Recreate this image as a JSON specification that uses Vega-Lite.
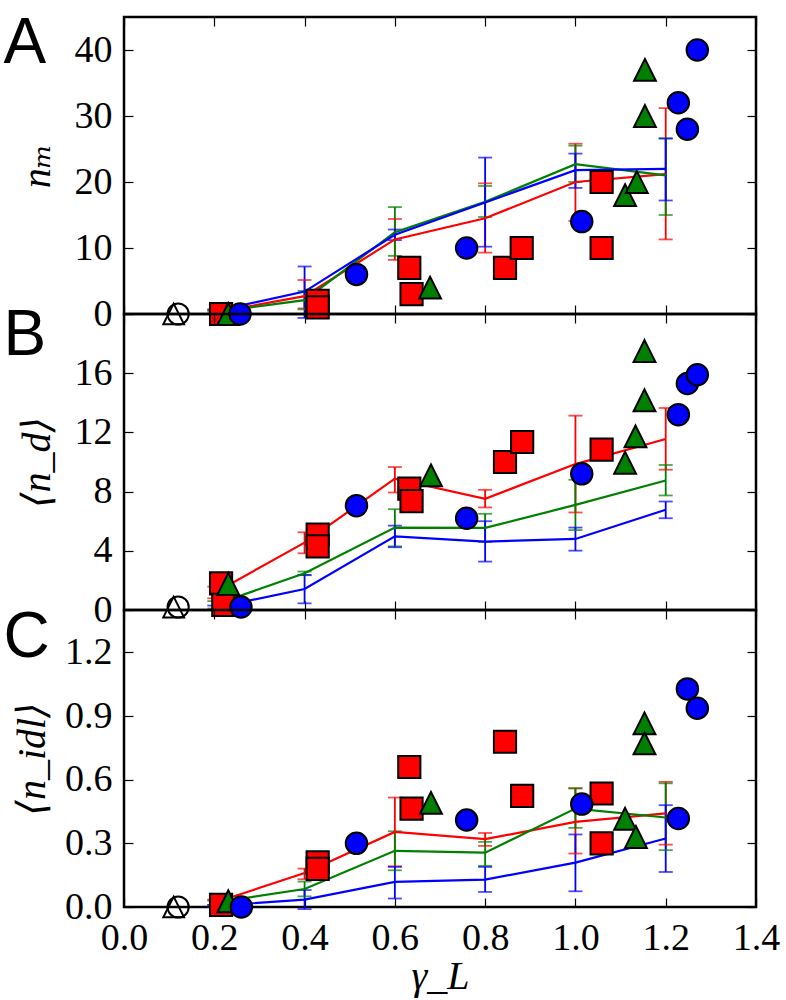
{
  "$schema": "https://vega.github.io/schema/vega-lite/v6.json",
  "background": "white",
  "padding": {"left": 2, "top": 10, "right": 10, "bottom": 0},
  "autosize": {"type": "pad"},
  "spacing": 0,
  "bounds": "flush",
  "config": {
    "view": {"stroke": "black", "strokeWidth": 2.5},
    "axis": {"grid": false, "domain": false, "labelFlush": false, "labelOverlap": false, "labelColor": "black", "titleColor": "black", "tickColor": "black", "tickWidth": 1.2, "labelFont": "Liberation Serif", "labelFontSize": 38, "titleFont": "Liberation Serif, DejaVu Serif, DejaVu Sans", "titleFontSize": 40, "titleFontStyle": "italic", "titleFontWeight": "normal"}
  },
  "datasets": {
    "A_means": [
      {"x": 0.2, "g": "g1", "mean": 0.2, "lo": 0.0, "hi": 0.4},
      {"x": 0.4, "g": "g1", "mean": 2.7, "lo": 0.85, "hi": 5.15},
      {"x": 0.6, "g": "g1", "mean": 11.3, "lo": 8.2, "hi": 14.4},
      {"x": 0.8, "g": "g1", "mean": 14.5, "lo": 9.3, "hi": 19.8},
      {"x": 1.0, "g": "g1", "mean": 20.0, "lo": 14.1, "hi": 25.8},
      {"x": 1.2, "g": "g1", "mean": 21.2, "lo": 11.3, "hi": 31.2},
      {"x": 0.2, "g": "g2", "mean": 0.3, "lo": 0.0, "hi": 0.6},
      {"x": 0.4, "g": "g2", "mean": 2.1, "lo": 0.7, "hi": 3.5},
      {"x": 0.6, "g": "g2", "mean": 12.4, "lo": 8.8, "hi": 16.2},
      {"x": 0.8, "g": "g2", "mean": 17.0, "lo": 14.7, "hi": 19.4},
      {"x": 1.0, "g": "g2", "mean": 22.7, "lo": 20.0, "hi": 25.5},
      {"x": 1.2, "g": "g2", "mean": 21.0, "lo": 15.0, "hi": 26.6},
      {"x": 0.2, "g": "g3", "mean": 0.4, "lo": 0.1, "hi": 0.7},
      {"x": 0.4, "g": "g3", "mean": 3.4, "lo": -0.6, "hi": 7.2},
      {"x": 0.6, "g": "g3", "mean": 12.0, "lo": 11.2, "hi": 12.8},
      {"x": 0.8, "g": "g3", "mean": 16.9, "lo": 10.2, "hi": 23.7},
      {"x": 1.0, "g": "g3", "mean": 21.8, "lo": 19.1, "hi": 24.3},
      {"x": 1.2, "g": "g3", "mean": 22.0, "lo": 17.2, "hi": 26.6}
    ],
    "B_means": [
      {"x": 0.2, "g": "g1", "mean": 1.15, "lo": 0.79, "hi": 1.58},
      {"x": 0.4, "g": "g1", "mean": 4.55, "lo": 3.83, "hi": 5.25},
      {"x": 0.6, "g": "g1", "mean": 8.87, "lo": 7.94, "hi": 9.66},
      {"x": 0.8, "g": "g1", "mean": 7.51, "lo": 6.93, "hi": 8.12},
      {"x": 1.0, "g": "g1", "mean": 9.86, "lo": 6.59, "hi": 13.13},
      {"x": 1.2, "g": "g1", "mean": 11.55, "lo": 9.48, "hi": 13.65},
      {"x": 0.2, "g": "g2", "mean": 0.35, "lo": 0.1, "hi": 0.6},
      {"x": 0.4, "g": "g2", "mean": 2.48, "lo": 2.35, "hi": 2.6},
      {"x": 0.6, "g": "g2", "mean": 5.57, "lo": 4.3, "hi": 6.81},
      {"x": 0.8, "g": "g2", "mean": 5.55, "lo": 4.6, "hi": 6.5},
      {"x": 1.0, "g": "g2", "mean": 7.1, "lo": 5.4, "hi": 8.8},
      {"x": 1.2, "g": "g2", "mean": 8.75, "lo": 7.74, "hi": 9.8},
      {"x": 0.2, "g": "g3", "mean": 0.15, "lo": 0.0, "hi": 0.3},
      {"x": 0.4, "g": "g3", "mean": 1.42, "lo": 0.45, "hi": 2.37},
      {"x": 0.6, "g": "g3", "mean": 4.98, "lo": 4.24, "hi": 5.7},
      {"x": 0.8, "g": "g3", "mean": 4.62, "lo": 3.27, "hi": 6.0},
      {"x": 1.0, "g": "g3", "mean": 4.8, "lo": 4.01, "hi": 5.57},
      {"x": 1.2, "g": "g3", "mean": 6.77, "lo": 6.2, "hi": 7.33}
    ],
    "C_means": [
      {"x": 0.2, "g": "g1", "mean": 0.02, "lo": 0.005, "hi": 0.035},
      {"x": 0.4, "g": "g1", "mean": 0.16, "lo": 0.131, "hi": 0.181},
      {"x": 0.6, "g": "g1", "mean": 0.354, "lo": 0.192, "hi": 0.516},
      {"x": 0.8, "g": "g1", "mean": 0.32, "lo": 0.288, "hi": 0.349},
      {"x": 1.0, "g": "g1", "mean": 0.401, "lo": 0.252, "hi": 0.559},
      {"x": 1.2, "g": "g1", "mean": 0.441, "lo": 0.294, "hi": 0.59},
      {"x": 0.2, "g": "g2", "mean": 0.02, "lo": 0.01, "hi": 0.03},
      {"x": 0.4, "g": "g2", "mean": 0.085, "lo": 0.05, "hi": 0.12},
      {"x": 0.6, "g": "g2", "mean": 0.265, "lo": 0.173, "hi": 0.357},
      {"x": 0.8, "g": "g2", "mean": 0.256, "lo": 0.194, "hi": 0.307},
      {"x": 1.0, "g": "g2", "mean": 0.464, "lo": 0.373, "hi": 0.56},
      {"x": 1.2, "g": "g2", "mean": 0.422, "lo": 0.268, "hi": 0.583},
      {"x": 0.2, "g": "g3", "mean": 0.005, "lo": 0.0, "hi": 0.01},
      {"x": 0.4, "g": "g3", "mean": 0.035, "lo": -0.01, "hi": 0.08},
      {"x": 0.6, "g": "g3", "mean": 0.118, "lo": 0.04, "hi": 0.189},
      {"x": 0.8, "g": "g3", "mean": 0.129, "lo": 0.071, "hi": 0.189},
      {"x": 1.0, "g": "g3", "mean": 0.209, "lo": 0.074, "hi": 0.342},
      {"x": 1.2, "g": "g3", "mean": 0.323, "lo": 0.165, "hi": 0.48}
    ],
    "A_pts": [
      {"x": 0.215, "y": 0, "g": "g1"},
      {"x": 0.429, "y": 2, "g": "g1"},
      {"x": 0.429, "y": 1, "g": "g1"},
      {"x": 0.632, "y": 7, "g": "g1"},
      {"x": 0.637, "y": 3, "g": "g1"},
      {"x": 0.844, "y": 7, "g": "g1"},
      {"x": 0.881, "y": 10, "g": "g1"},
      {"x": 1.058, "y": 20, "g": "g1"},
      {"x": 1.058, "y": 10, "g": "g1"},
      {"x": 0.231, "y": 0, "g": "g2"},
      {"x": 0.678, "y": 4, "g": "g2"},
      {"x": 1.11, "y": 18, "g": "g2"},
      {"x": 1.136, "y": 20, "g": "g2"},
      {"x": 1.154, "y": 37, "g": "g2"},
      {"x": 1.154, "y": 30, "g": "g2"},
      {"x": 0.257, "y": 0, "g": "g3"},
      {"x": 0.515, "y": 6, "g": "g3"},
      {"x": 0.759, "y": 10, "g": "g3"},
      {"x": 1.014, "y": 14, "g": "g3"},
      {"x": 1.228, "y": 32, "g": "g3"},
      {"x": 1.248, "y": 28, "g": "g3"},
      {"x": 1.27, "y": 40, "g": "g3"}
    ],
    "B_pts": [
      {"x": 0.215, "y": 1.8, "g": "g1"},
      {"x": 0.22, "y": 0.35, "g": "g1"},
      {"x": 0.429, "y": 5.1, "g": "g1"},
      {"x": 0.429, "y": 4.3, "g": "g1"},
      {"x": 0.632, "y": 8.2, "g": "g1"},
      {"x": 0.637, "y": 7.35, "g": "g1"},
      {"x": 0.844, "y": 10.0, "g": "g1"},
      {"x": 0.882, "y": 11.35, "g": "g1"},
      {"x": 1.058, "y": 10.83, "g": "g1"},
      {"x": 0.231, "y": 1.76, "g": "g2"},
      {"x": 0.68, "y": 9.1, "g": "g2"},
      {"x": 1.11, "y": 9.95, "g": "g2"},
      {"x": 1.133, "y": 11.73, "g": "g2"},
      {"x": 1.153, "y": 14.17, "g": "g2"},
      {"x": 1.153, "y": 17.5, "g": "g2"},
      {"x": 0.259, "y": 0.2, "g": "g3"},
      {"x": 0.515, "y": 7.05, "g": "g3"},
      {"x": 0.759, "y": 6.2, "g": "g3"},
      {"x": 1.014, "y": 9.2, "g": "g3"},
      {"x": 1.228, "y": 13.2, "g": "g3"},
      {"x": 1.248, "y": 15.3, "g": "g3"},
      {"x": 1.27, "y": 15.9, "g": "g3"}
    ],
    "C_pts": [
      {"x": 0.215, "y": 0.01, "g": "g1"},
      {"x": 0.429, "y": 0.21, "g": "g1"},
      {"x": 0.429, "y": 0.18, "g": "g1"},
      {"x": 0.632, "y": 0.66, "g": "g1"},
      {"x": 0.637, "y": 0.464, "g": "g1"},
      {"x": 0.844, "y": 0.779, "g": "g1"},
      {"x": 0.882, "y": 0.524, "g": "g1"},
      {"x": 1.058, "y": 0.535, "g": "g1"},
      {"x": 1.058, "y": 0.3, "g": "g1"},
      {"x": 0.231, "y": 0.027, "g": "g2"},
      {"x": 0.68, "y": 0.491, "g": "g2"},
      {"x": 1.11, "y": 0.416, "g": "g2"},
      {"x": 1.134, "y": 0.33, "g": "g2"},
      {"x": 1.153, "y": 0.866, "g": "g2"},
      {"x": 1.153, "y": 0.771, "g": "g2"},
      {"x": 0.26, "y": 0, "g": "g3"},
      {"x": 0.515, "y": 0.3, "g": "g3"},
      {"x": 0.759, "y": 0.41, "g": "g3"},
      {"x": 1.014, "y": 0.485, "g": "g3"},
      {"x": 1.228, "y": 0.417, "g": "g3"},
      {"x": 1.248, "y": 1.028, "g": "g3"},
      {"x": 1.27, "y": 0.937, "g": "g3"}
    ],
    "A_hollow": [
      {"x": 0.12, "y": 0, "g": "h1"},
      {"x": 0.11, "y": 0, "g": "h2"}
    ],
    "B_hollow": [
      {"x": 0.12, "y": 0.2, "g": "h1"},
      {"x": 0.11, "y": 0.2, "g": "h2"}
    ],
    "C_hollow": [
      {"x": 0.12, "y": 0, "g": "h1"},
      {"x": 0.11, "y": 0, "g": "h2"}
    ]
  },
  "vconcat": [
    {
      "width": 632,
      "height": 297,
      "title": {"text": "A", "anchor": "start", "frame": "group", "orient": "top", "offset": 0, "dx": -120.5, "dy": 110.5, "baseline": "alphabetic", "align": "left", "fontSize": 64, "font": "Liberation Sans", "fontWeight": "normal", "color": "black"},
      "layer": [
        {
          "data": {"name": "A_means"},
          "mark": {"type": "rule", "strokeWidth": 1.8},
          "encoding": {
            "x": {"field": "x", "type": "quantitative", "scale": {"domain": [0, 1.4], "nice": false, "zero": false}, "axis": {"orient": "bottom", "values": [0, 0.2, 0.4, 0.6, 0.8, 1.0, 1.2, 1.4], "labels": false, "ticks": true, "tickSize": -9, "title": null}},
            "y": {"field": "lo", "type": "quantitative", "scale": {"domain": [0, 45], "nice": false, "zero": false}, "axis": {"orient": "left", "values": [0, 10, 20, 30, 40], "format": "d", "ticks": false, "labelPadding": 12, "title": "nₘ", "titlePadding": 17}},
            "y2": {"field": "hi"},
            "color": {"field": "g", "type": "nominal", "scale": {"domain": ["g1", "g2", "g3"], "range": ["#ff0000", "#008000", "#0000ff"]}, "legend": null}
          }
        },
        {
          "data": {"name": "A_means"},
          "mark": {"type": "tick", "orient": "horizontal", "size": 14, "thickness": 1.8},
          "encoding": {
            "x": {"field": "x", "type": "quantitative", "scale": {"domain": [0, 1.4], "nice": false, "zero": false}, "axis": {"orient": "top", "values": [0, 0.2, 0.4, 0.6, 0.8, 1.0, 1.2, 1.4], "labels": false, "ticks": true, "tickSize": -9, "title": null}},
            "y": {"field": "lo", "type": "quantitative", "scale": {"domain": [0, 45], "nice": false, "zero": false}, "axis": {"orient": "left", "values": [0, 10, 20, 30, 40], "labels": false, "ticks": true, "tickSize": -9, "title": null}},
            "color": {"field": "g", "type": "nominal", "scale": {"domain": ["g1", "g2", "g3"], "range": ["#ff0000", "#008000", "#0000ff"]}, "legend": null}
          }
        },
        {
          "data": {"name": "A_means"},
          "mark": {"type": "tick", "orient": "horizontal", "size": 14, "thickness": 1.8},
          "encoding": {
            "x": {"field": "x", "type": "quantitative", "scale": {"domain": [0, 1.4], "nice": false, "zero": false}, "axis": null},
            "y": {"field": "hi", "type": "quantitative", "scale": {"domain": [0, 45], "nice": false, "zero": false}, "axis": {"orient": "right", "values": [0, 10, 20, 30, 40], "labels": false, "ticks": true, "tickSize": -9, "title": null}},
            "color": {"field": "g", "type": "nominal", "scale": {"domain": ["g1", "g2", "g3"], "range": ["#ff0000", "#008000", "#0000ff"]}, "legend": null}
          }
        },
        {
          "data": {"name": "A_means"},
          "mark": {"type": "line", "strokeWidth": 2.2},
          "encoding": {
            "x": {"field": "x", "type": "quantitative", "scale": {"domain": [0, 1.4], "nice": false, "zero": false}, "axis": null},
            "y": {"field": "mean", "type": "quantitative", "scale": {"domain": [0, 45], "nice": false, "zero": false}, "axis": null},
            "color": {"field": "g", "type": "nominal", "scale": {"domain": ["g1", "g2", "g3"], "range": ["#ff0000", "#008000", "#0000ff"]}, "legend": null}
          }
        },
        {
          "data": {"name": "A_pts"},
          "mark": {"type": "point", "filled": true, "stroke": "black", "strokeWidth": 2, "opacity": 1, "fillOpacity": 1, "strokeOpacity": 1},
          "encoding": {
            "x": {"field": "x", "type": "quantitative", "scale": {"domain": [0, 1.4], "nice": false, "zero": false}, "axis": null},
            "y": {"field": "y", "type": "quantitative", "scale": {"domain": [0, 45], "nice": false, "zero": false}, "axis": null},
            "fill": {"field": "g", "type": "nominal", "scale": {"domain": ["g1", "g2", "g3"], "range": ["#ff0000", "#008000", "#0000ff"]}, "legend": null},
            "shape": {"field": "g", "type": "nominal", "scale": {"domain": ["g1", "g2", "g3", "h1", "h2"], "range": ["square", "M0,-1L1,1L-1,1Z", "circle", "circle", "M0,-1L1,1L-1,1Z"]}, "legend": null},
            "size": {"field": "g", "type": "ordinal", "scale": {"domain": ["g1", "g2", "g3", "h1", "h2"], "range": [493, 430, 363, 363, 430]}, "legend": null}
          }
        },
        {
          "data": {"name": "A_hollow"},
          "mark": {"type": "point", "filled": false, "stroke": "black", "strokeWidth": 2, "opacity": 1, "strokeOpacity": 1},
          "encoding": {
            "x": {"field": "x", "type": "quantitative", "scale": {"domain": [0, 1.4], "nice": false, "zero": false}, "axis": null},
            "y": {"field": "y", "type": "quantitative", "scale": {"domain": [0, 45], "nice": false, "zero": false}, "axis": null},
            "shape": {"field": "g", "type": "nominal", "scale": {"domain": ["g1", "g2", "g3", "h1", "h2"], "range": ["square", "M0,-1L1,1L-1,1Z", "circle", "circle", "M0,-1L1,1L-1,1Z"]}, "legend": null},
            "size": {"field": "g", "type": "ordinal", "scale": {"domain": ["g1", "g2", "g3", "h1", "h2"], "range": [493, 430, 363, 363, 430]}, "legend": null}
          }
        }
      ],
      "resolve": {"axis": {"x": "independent", "y": "independent"}}
    },
    {
      "width": 632,
      "height": 296,
      "title": {"text": "B", "anchor": "start", "frame": "group", "orient": "top", "offset": 0, "dx": -120.5, "dy": 106, "baseline": "alphabetic", "align": "left", "fontSize": 64, "font": "Liberation Sans", "fontWeight": "normal", "color": "black"},
      "layer": [
        {
          "data": {"name": "B_means"},
          "mark": {"type": "rule", "strokeWidth": 1.8},
          "encoding": {
            "x": {"field": "x", "type": "quantitative", "scale": {"domain": [0, 1.4], "nice": false, "zero": false}, "axis": {"orient": "bottom", "values": [0, 0.2, 0.4, 0.6, 0.8, 1.0, 1.2, 1.4], "labels": false, "ticks": true, "tickSize": -9, "title": null}},
            "y": {"field": "lo", "type": "quantitative", "scale": {"domain": [0, 20], "nice": false, "zero": false}, "axis": {"orient": "left", "values": [0, 4, 8, 12, 16], "format": "d", "ticks": false, "labelPadding": 12, "title": "⟨n_d⟩", "titlePadding": 17}},
            "y2": {"field": "hi"},
            "color": {"field": "g", "type": "nominal", "scale": {"domain": ["g1", "g2", "g3"], "range": ["#ff0000", "#008000", "#0000ff"]}, "legend": null}
          }
        },
        {
          "data": {"name": "B_means"},
          "mark": {"type": "tick", "orient": "horizontal", "size": 14, "thickness": 1.8},
          "encoding": {
            "x": {"field": "x", "type": "quantitative", "scale": {"domain": [0, 1.4], "nice": false, "zero": false}, "axis": {"orient": "top", "values": [0, 0.2, 0.4, 0.6, 0.8, 1.0, 1.2, 1.4], "labels": false, "ticks": true, "tickSize": -9, "title": null}},
            "y": {"field": "lo", "type": "quantitative", "scale": {"domain": [0, 20], "nice": false, "zero": false}, "axis": {"orient": "left", "values": [0, 4, 8, 12, 16, 20], "labels": false, "ticks": true, "tickSize": -9, "title": null}},
            "color": {"field": "g", "type": "nominal", "scale": {"domain": ["g1", "g2", "g3"], "range": ["#ff0000", "#008000", "#0000ff"]}, "legend": null}
          }
        },
        {
          "data": {"name": "B_means"},
          "mark": {"type": "tick", "orient": "horizontal", "size": 14, "thickness": 1.8},
          "encoding": {
            "x": {"field": "x", "type": "quantitative", "scale": {"domain": [0, 1.4], "nice": false, "zero": false}, "axis": null},
            "y": {"field": "hi", "type": "quantitative", "scale": {"domain": [0, 20], "nice": false, "zero": false}, "axis": {"orient": "right", "values": [0, 4, 8, 12, 16, 20], "labels": false, "ticks": true, "tickSize": -9, "title": null}},
            "color": {"field": "g", "type": "nominal", "scale": {"domain": ["g1", "g2", "g3"], "range": ["#ff0000", "#008000", "#0000ff"]}, "legend": null}
          }
        },
        {
          "data": {"name": "B_means"},
          "mark": {"type": "line", "strokeWidth": 2.2},
          "encoding": {
            "x": {"field": "x", "type": "quantitative", "scale": {"domain": [0, 1.4], "nice": false, "zero": false}, "axis": null},
            "y": {"field": "mean", "type": "quantitative", "scale": {"domain": [0, 20], "nice": false, "zero": false}, "axis": null},
            "color": {"field": "g", "type": "nominal", "scale": {"domain": ["g1", "g2", "g3"], "range": ["#ff0000", "#008000", "#0000ff"]}, "legend": null}
          }
        },
        {
          "data": {"name": "B_pts"},
          "mark": {"type": "point", "filled": true, "stroke": "black", "strokeWidth": 2, "opacity": 1, "fillOpacity": 1, "strokeOpacity": 1},
          "encoding": {
            "x": {"field": "x", "type": "quantitative", "scale": {"domain": [0, 1.4], "nice": false, "zero": false}, "axis": null},
            "y": {"field": "y", "type": "quantitative", "scale": {"domain": [0, 20], "nice": false, "zero": false}, "axis": null},
            "fill": {"field": "g", "type": "nominal", "scale": {"domain": ["g1", "g2", "g3"], "range": ["#ff0000", "#008000", "#0000ff"]}, "legend": null},
            "shape": {"field": "g", "type": "nominal", "scale": {"domain": ["g1", "g2", "g3", "h1", "h2"], "range": ["square", "M0,-1L1,1L-1,1Z", "circle", "circle", "M0,-1L1,1L-1,1Z"]}, "legend": null},
            "size": {"field": "g", "type": "ordinal", "scale": {"domain": ["g1", "g2", "g3", "h1", "h2"], "range": [493, 430, 363, 363, 430]}, "legend": null}
          }
        },
        {
          "data": {"name": "B_hollow"},
          "mark": {"type": "point", "filled": false, "stroke": "black", "strokeWidth": 2, "opacity": 1, "strokeOpacity": 1},
          "encoding": {
            "x": {"field": "x", "type": "quantitative", "scale": {"domain": [0, 1.4], "nice": false, "zero": false}, "axis": null},
            "y": {"field": "y", "type": "quantitative", "scale": {"domain": [0, 20], "nice": false, "zero": false}, "axis": null},
            "shape": {"field": "g", "type": "nominal", "scale": {"domain": ["g1", "g2", "g3", "h1", "h2"], "range": ["square", "M0,-1L1,1L-1,1Z", "circle", "circle", "M0,-1L1,1L-1,1Z"]}, "legend": null},
            "size": {"field": "g", "type": "ordinal", "scale": {"domain": ["g1", "g2", "g3", "h1", "h2"], "range": [493, 430, 363, 363, 430]}, "legend": null}
          }
        }
      ],
      "resolve": {"axis": {"x": "independent", "y": "independent"}}
    },
    {
      "width": 632,
      "height": 297,
      "title": {"text": "C", "anchor": "start", "frame": "group", "orient": "top", "offset": 0, "dx": -120.5, "dy": 111.5, "baseline": "alphabetic", "align": "left", "fontSize": 64, "font": "Liberation Sans", "fontWeight": "normal", "color": "black"},
      "layer": [
        {
          "data": {"name": "C_means"},
          "mark": {"type": "rule", "strokeWidth": 1.8},
          "encoding": {
            "x": {"field": "x", "type": "quantitative", "scale": {"domain": [0, 1.4], "nice": false, "zero": false}, "axis": {"orient": "bottom", "values": [0, 0.2, 0.4, 0.6, 0.8, 1.0, 1.2, 1.4], "labels": false, "ticks": true, "tickSize": -9, "title": null}},
            "y": {"field": "lo", "type": "quantitative", "scale": {"domain": [0, 1.4], "nice": false, "zero": false}, "axis": {"orient": "left", "values": [0, 0.3, 0.6, 0.9, 1.2], "format": ".1f", "ticks": false, "labelPadding": 12, "title": "⟨n_idl⟩", "titlePadding": 12}},
            "y2": {"field": "hi"},
            "color": {"field": "g", "type": "nominal", "scale": {"domain": ["g1", "g2", "g3"], "range": ["#ff0000", "#008000", "#0000ff"]}, "legend": null}
          }
        },
        {
          "data": {"name": "C_means"},
          "mark": {"type": "tick", "orient": "horizontal", "size": 14, "thickness": 1.8},
          "encoding": {
            "x": {"field": "x", "type": "quantitative", "scale": {"domain": [0, 1.4], "nice": false, "zero": false}, "axis": {"orient": "top", "values": [0, 0.2, 0.4, 0.6, 0.8, 1.0, 1.2, 1.4], "labels": false, "ticks": true, "tickSize": -9, "title": null}},
            "y": {"field": "lo", "type": "quantitative", "scale": {"domain": [0, 1.4], "nice": false, "zero": false}, "axis": {"orient": "left", "values": [0, 0.3, 0.6, 0.9, 1.2], "labels": false, "ticks": true, "tickSize": -9, "title": null}},
            "color": {"field": "g", "type": "nominal", "scale": {"domain": ["g1", "g2", "g3"], "range": ["#ff0000", "#008000", "#0000ff"]}, "legend": null}
          }
        },
        {
          "data": {"name": "C_means"},
          "mark": {"type": "tick", "orient": "horizontal", "size": 14, "thickness": 1.8},
          "encoding": {
            "x": {"field": "x", "type": "quantitative", "scale": {"domain": [0, 1.4], "nice": false, "zero": false}, "axis": {"orient": "bottom", "values": [0, 0.2, 0.4, 0.6, 0.8, 1.0, 1.2, 1.4], "format": ".1f", "ticks": false, "labelPadding": 12, "title": "γ_L", "titlePadding": -1}},
            "y": {"field": "hi", "type": "quantitative", "scale": {"domain": [0, 1.4], "nice": false, "zero": false}, "axis": {"orient": "right", "values": [0, 0.3, 0.6, 0.9, 1.2], "labels": false, "ticks": true, "tickSize": -9, "title": null}},
            "color": {"field": "g", "type": "nominal", "scale": {"domain": ["g1", "g2", "g3"], "range": ["#ff0000", "#008000", "#0000ff"]}, "legend": null}
          }
        },
        {
          "data": {"name": "C_means"},
          "mark": {"type": "line", "strokeWidth": 2.2},
          "encoding": {
            "x": {"field": "x", "type": "quantitative", "scale": {"domain": [0, 1.4], "nice": false, "zero": false}, "axis": null},
            "y": {"field": "mean", "type": "quantitative", "scale": {"domain": [0, 1.4], "nice": false, "zero": false}, "axis": null},
            "color": {"field": "g", "type": "nominal", "scale": {"domain": ["g1", "g2", "g3"], "range": ["#ff0000", "#008000", "#0000ff"]}, "legend": null}
          }
        },
        {
          "data": {"name": "C_pts"},
          "mark": {"type": "point", "filled": true, "stroke": "black", "strokeWidth": 2, "opacity": 1, "fillOpacity": 1, "strokeOpacity": 1},
          "encoding": {
            "x": {"field": "x", "type": "quantitative", "scale": {"domain": [0, 1.4], "nice": false, "zero": false}, "axis": null},
            "y": {"field": "y", "type": "quantitative", "scale": {"domain": [0, 1.4], "nice": false, "zero": false}, "axis": null},
            "fill": {"field": "g", "type": "nominal", "scale": {"domain": ["g1", "g2", "g3"], "range": ["#ff0000", "#008000", "#0000ff"]}, "legend": null},
            "shape": {"field": "g", "type": "nominal", "scale": {"domain": ["g1", "g2", "g3", "h1", "h2"], "range": ["square", "M0,-1L1,1L-1,1Z", "circle", "circle", "M0,-1L1,1L-1,1Z"]}, "legend": null},
            "size": {"field": "g", "type": "ordinal", "scale": {"domain": ["g1", "g2", "g3", "h1", "h2"], "range": [493, 430, 363, 363, 430]}, "legend": null}
          }
        },
        {
          "data": {"name": "C_hollow"},
          "mark": {"type": "point", "filled": false, "stroke": "black", "strokeWidth": 2, "opacity": 1, "strokeOpacity": 1},
          "encoding": {
            "x": {"field": "x", "type": "quantitative", "scale": {"domain": [0, 1.4], "nice": false, "zero": false}, "axis": null},
            "y": {"field": "y", "type": "quantitative", "scale": {"domain": [0, 1.4], "nice": false, "zero": false}, "axis": null},
            "shape": {"field": "g", "type": "nominal", "scale": {"domain": ["g1", "g2", "g3", "h1", "h2"], "range": ["square", "M0,-1L1,1L-1,1Z", "circle", "circle", "M0,-1L1,1L-1,1Z"]}, "legend": null},
            "size": {"field": "g", "type": "ordinal", "scale": {"domain": ["g1", "g2", "g3", "h1", "h2"], "range": [493, 430, 363, 363, 430]}, "legend": null}
          }
        }
      ],
      "resolve": {"axis": {"x": "independent", "y": "independent"}}
    }
  ]
}
